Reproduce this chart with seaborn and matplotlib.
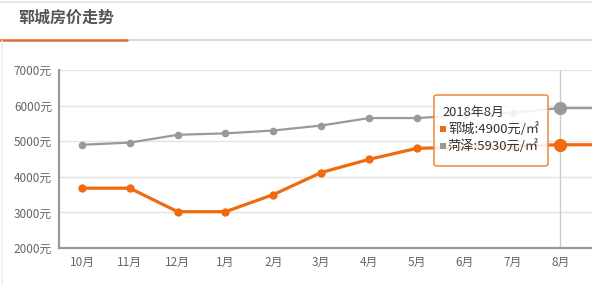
import matplotlib
matplotlib.use("Agg")
import matplotlib.pyplot as plt
import seaborn as sns
import numpy as np
import pandas as pd
from matplotlib.lines import Line2D
from matplotlib.patches import FancyBboxPatch, Rectangle

# ---- data ----
months = ["10月", "11月", "12月", "1月", "2月", "3月", "4月", "5月", "6月", "7月", "8月", "9月"]
yuncheng = [3680, 3680, 3020, 3020, 3500, 4120, 4490, 4800, 4830, 4870, 4900, 4900]
heze = [4900, 4960, 5180, 5220, 5300, 5440, 5650, 5650, 5730, 5800, 5930, 5930]
yticks = [2000, 3000, 4000, 5000, 6000, 7000]
ytick_labels = ["2000元", "3000元", "4000元", "5000元", "6000元", "7000元"]
title = "郓城房价走势"
tip_title = "2018年8月"
tip_lines = ["郓城:4900元/㎡", "菏泽:5930元/㎡"]
highlight = 10

ORANGE = "#f06a0f"
GRAY = "#999999"

sns.set_theme(style="white")
plt.rcParams["font.family"] = ["Noto Sans CJK SC", "DejaVu Sans"]

W, H = 592, 285
fig = plt.figure(figsize=(W / 100, H / 100), dpi=100)

def fx(px):
    return px / W

def fy(py):
    return 1 - py / H

ax = fig.add_axes([fx(59), fy(248), fx(592 - 59), (248 - 70) / H])

df = pd.DataFrame({"x": np.arange(len(months)), "郓城": yuncheng, "菏泽": heze})

sns.lineplot(data=df, x="x", y="菏泽", ax=ax, color=GRAY, linewidth=1.6,
             marker="o", markersize=5.5, markeredgewidth=0, zorder=3)
sns.lineplot(data=df, x="x", y="郓城", ax=ax, color=ORANGE, linewidth=2.3,
             marker="o", markersize=6, markeredgewidth=0, zorder=4)

# highlighted points
ax.plot(df["x"].iloc[highlight], heze[highlight], "o", color=GRAY, markersize=8.5, zorder=6)
ax.plot(df["x"].iloc[highlight], yuncheng[highlight], "o", color=ORANGE, markersize=8.5, zorder=6)
ax.axvline(highlight, color="#cccccc", linewidth=1, zorder=2)

ax.set_yticks(yticks)
ax.set_yticklabels(ytick_labels)
ax.set_xticks(df["x"])
ax.set_xticklabels(months)
ax.set_ylim(2000, 7000)
ax.set_xlim(-0.48, (592 - 82) / 47.75 - 0.02)
ax.set_xlabel("")
ax.set_ylabel("")
ax.grid(axis="y", color="#e3e3e3", linewidth=1)
ax.set_axisbelow(True)
for s in ["top", "right"]:
    ax.spines[s].set_visible(False)
for s in ["left", "bottom"]:
    ax.spines[s].set_color("#999999")
    ax.spines[s].set_linewidth(1.6)
ax.tick_params(axis="y", length=0, pad=5, labelsize=8.5, labelcolor="#666666")
ax.tick_params(axis="x", length=3, color="#dddddd", pad=3, labelsize=8.5, labelcolor="#666666")

# ---- tooltip ----
box = FancyBboxPatch((fx(434), fy(166)), fx(548 - 434), (166 - 95) / H,
                     boxstyle="round,pad=0,rounding_size=0.006",
                     transform=fig.transFigure, facecolor="white", alpha=0.88,
                     edgecolor="none", zorder=10)
fig.patches.append(box)
border = FancyBboxPatch((fx(434), fy(166)), fx(548 - 434), (166 - 95) / H,
                        boxstyle="round,pad=0,rounding_size=0.006",
                        transform=fig.transFigure, facecolor="none",
                        edgecolor="#f0904a", linewidth=1.2, zorder=11)
fig.patches.append(border)
fig.text(fx(442), fy(112), tip_title, fontsize=9.3, color="#333333", va="center", ha="left", zorder=12)
for i, (txt, c) in enumerate(zip(tip_lines, [ORANGE, GRAY])):
    yy = 129 + 17 * i
    fig.patches.append(Rectangle((fx(440), fy(yy + 3)), fx(6), 6 / H,
                                 transform=fig.transFigure, facecolor=c, edgecolor="none", zorder=12))
    fig.text(fx(448), fy(yy), txt, fontsize=9.5, color="#333333", va="center", ha="left", zorder=12)

# ---- header ----
fig.text(fx(18), fy(18), title, fontsize=11.5, fontweight="bold", color="#555555", va="center", ha="left")
fig.add_artist(Line2D([0, 1], [fy(1.5), fy(1.5)], transform=fig.transFigure, color="#e6e6e6", linewidth=1.5))
fig.add_artist(Line2D([fx(127), 1], [fy(39.5), fy(39.5)], transform=fig.transFigure, color="#dddddd", linewidth=1.6))
fig.add_artist(Line2D([0, fx(127)], [fy(39.5), fy(39.5)], transform=fig.transFigure, color="#e06a38", linewidth=1.8))
fig.add_artist(Line2D([fx(1.5), fx(1.5)], [fy(41), 0], transform=fig.transFigure, color="#eeeeee", linewidth=1.2))

fig.savefig("out.png", dpi=100)
